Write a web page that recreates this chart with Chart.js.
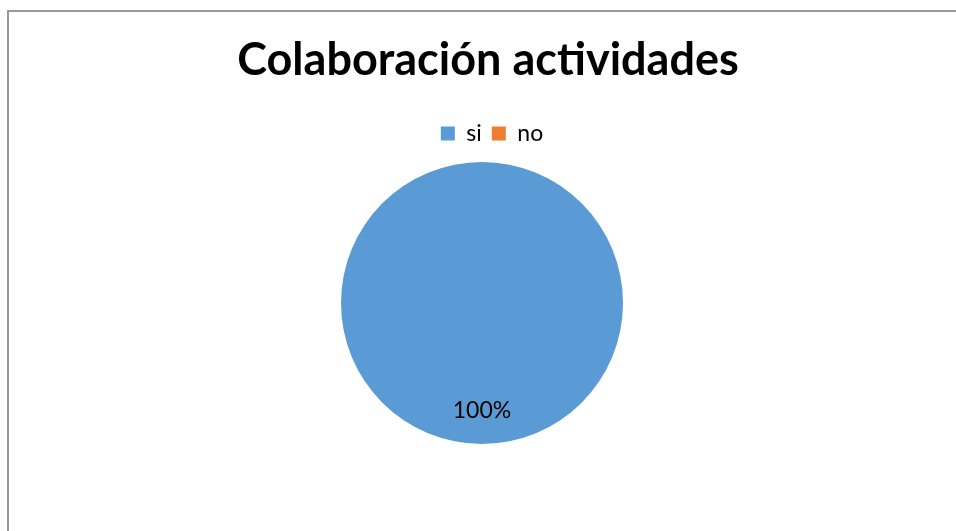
<!DOCTYPE html>
<html>
<head>
<meta charset="utf-8">
<script src="https://cdn.jsdelivr.net/npm/chart.js@4"></script>
<style>
  html, body { margin: 0; padding: 0; background: #fff; }
  #wrap { position: relative; width: 956px; height: 531px; overflow: hidden; }
  #frame { position: absolute; left: 7px; top: 10px; width: 1000px; height: 600px;
           border-left: 2px solid #9a9a9a; border-top: 2px solid #9a9a9a; box-sizing: border-box; }
  canvas { position: absolute; left: 0; top: 0; }
</style>
</head>
<body>
<div id="wrap">
  <div id="frame"></div>
  <canvas id="c" width="956" height="531"></canvas>
</div>
<script>
const chartTitle = 'Colaboración actividades';
const categories = ['si', 'no'];
const values = [100, 0];
const colors = ['#5B9BD5', '#ED7D31'];
const FONT = 'Lato, "Open Sans", sans-serif';

const pctLabels = {
  id: 'pctLabels',
  afterLayout(chart) {
    if (chart.titleBlock) { chart.titleBlock.left += 6; chart.titleBlock.right += 6; }
    if (chart.legend) { chart.legend.left += 20; chart.legend.right += 0; }
  },
  afterDatasetsDraw(chart) {
    const ctx = chart.ctx;
    const meta = chart.getDatasetMeta(0);
    const data = chart.data.datasets[0].data;
    const total = data.reduce((a, b) => a + b, 0);
    ctx.save();
    ctx.fillStyle = '#000';
    ctx.font = '23px ' + FONT;
    ctx.textAlign = 'center';
    ctx.textBaseline = 'middle';
    meta.data.forEach((arc, i) => {
      if (!data[i]) return;
      const p = arc.getProps(['x', 'y', 'startAngle', 'endAngle', 'outerRadius'], true);
      const mid = (p.startAngle + p.endAngle) / 2;
      const r = p.outerRadius * 0.76;
      const pct = Math.round(data[i] / total * 100) + '%';
      ctx.fillText(pct, p.x + Math.cos(mid) * r, p.y + Math.sin(mid) * r);
    });
    ctx.restore();
  }
};

new Chart(document.getElementById('c'), {
  type: 'pie',
  data: {
    labels: categories,
    datasets: [{ data: values, backgroundColor: colors, borderWidth: 0, radius: 141 }]
  },
  options: {
    responsive: false,
    animation: false,
    layout: { padding: { left: 8, right: 0, top: 33, bottom: 80 } },
    plugins: {
      title: {
        display: true,
        text: chartTitle,
        color: '#000',
        font: { family: FONT, size: 45, weight: 'bold' },
        padding: { top: 0, bottom: 25 }
      },
      legend: {
        display: true,
        position: 'top',
        labels: {
          color: '#000',
          font: { family: FONT, size: 23 },
          boxWidth: 14,
          boxHeight: 14,
          padding: 10
        }
      },
      tooltip: { enabled: false }
    }
  },
  plugins: [pctLabels]
});
</script>
</body>
</html>
